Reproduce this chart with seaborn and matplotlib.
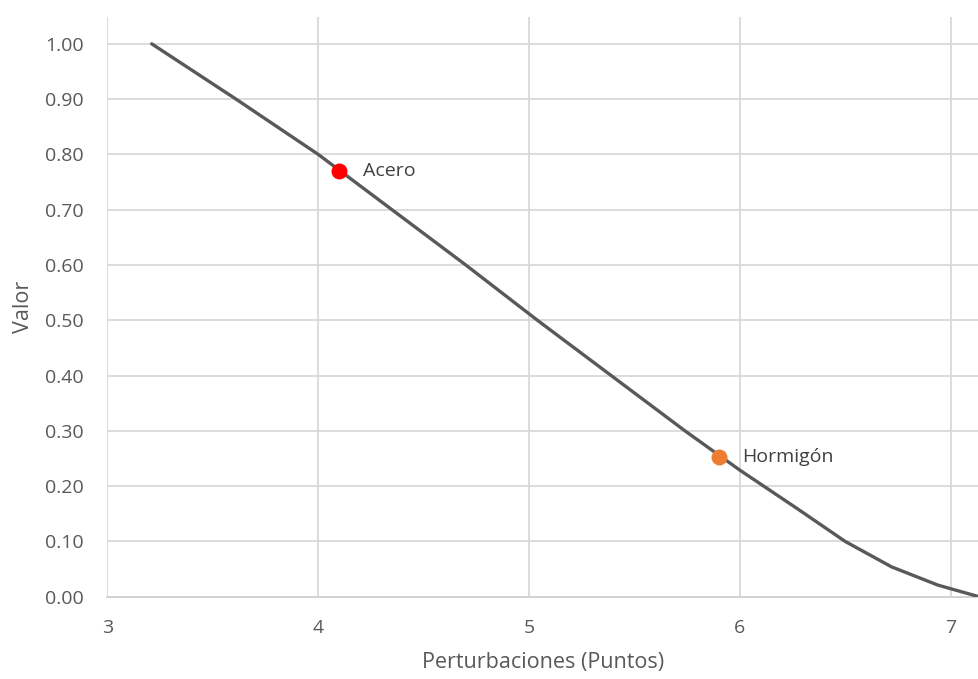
import matplotlib
matplotlib.use("Agg")
import matplotlib.pyplot as plt
import seaborn as sns
import pandas as pd

# Curve: value as a function of perturbation points
perturbaciones = [3.21, 3.61, 4.00, 4.35, 4.70, 5.04, 5.39, 5.74, 6.00, 6.27, 6.50, 6.72, 6.94, 7.135]
valor = [1.00, 0.90, 0.80, 0.70, 0.60, 0.50, 0.40, 0.30, 0.229, 0.16, 0.10, 0.054, 0.021, 0.0]

# Highlighted materials
materiales = ["Acero", "Hormigón"]
mat_x = [4.10, 5.90]
mat_y = [0.770, 0.253]
mat_colores = ["#FF0000", "#ED7D31"]

x_ticks = [3, 4, 5, 6, 7]
y_ticks = [0.0, 0.1, 0.2, 0.3, 0.4, 0.5, 0.6, 0.7, 0.8, 0.9, 1.0]

sns.set_theme(style="white")
plt.rcParams["font.family"] = ["Open Sans", "DejaVu Sans"]

fig = plt.figure(figsize=(9.79, 6.79), dpi=100)
ax = fig.add_axes([0.1097, 0.1212, 1 - 0.1097, 0.9754 - 0.1212])

df = pd.DataFrame({"x": perturbaciones, "y": valor})
sns.lineplot(data=df, x="x", y="y", ax=ax, color="#595959", linewidth=2.4,
             sort=False, estimator=None, zorder=3)

for nombre, mx, my, c in zip(materiales, mat_x, mat_y, mat_colores):
    ax.plot(mx, my, "o", color=c, markersize=11.5, zorder=4, markeredgewidth=0)
    ax.annotate(nombre, (mx, my), xytext=(17, 0), textcoords="offset points",
                va="center", ha="left", fontsize=14, color="#404040")

ax.set_xlim(3, 7.135)
ax.set_ylim(0, 1.049)
ax.set_xticks(x_ticks)
ax.set_yticks(y_ticks)
ax.set_yticklabels([f"{v:.2f}" for v in y_ticks])
ax.grid(True, color="#D9D9D9", linewidth=1.3)
ax.set_axisbelow(True)
for s in ["top", "right", "left"]:
    ax.spines[s].set_visible(False)
ax.spines["bottom"].set_color("#D0D0D0")
ax.spines["bottom"].set_linewidth(1.3)
ax.tick_params(axis="both", length=0, labelsize=14, labelcolor="#595959")
ax.tick_params(axis="x", pad=16)
ax.tick_params(axis="y", pad=17)

ax.set_xlabel("Perturbaciones (Puntos)", fontsize=15.5, color="#595959", labelpad=11)
ax.set_ylabel("Valor", fontsize=15.5, color="#595959", labelpad=8)

fig.savefig("out.png", dpi=100)
